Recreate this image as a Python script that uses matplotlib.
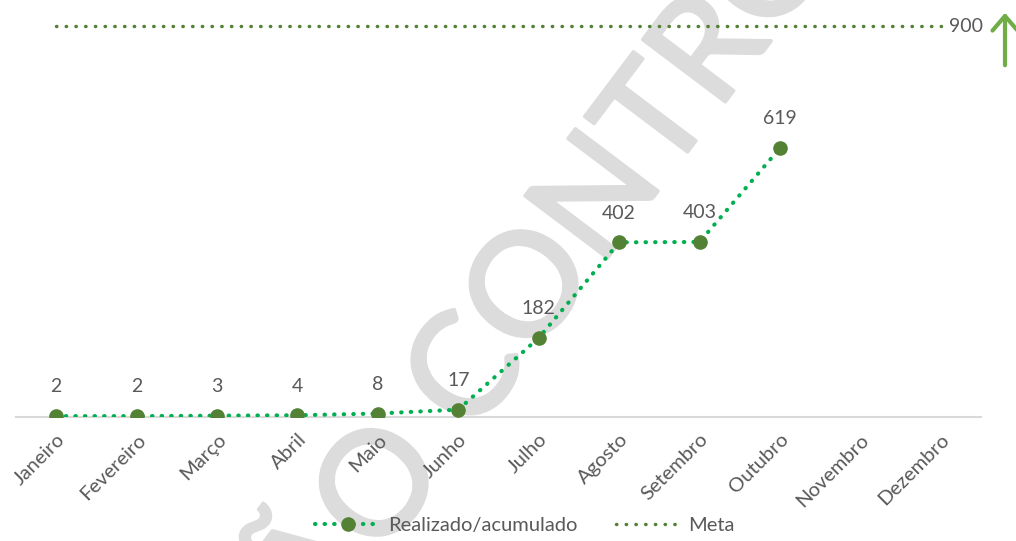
import matplotlib.pyplot as plt
import matplotlib.patheffects as pe
from matplotlib.patches import FancyArrowPatch
from matplotlib.transforms import offset_copy

meses = ["Janeiro", "Fevereiro", "Março", "Abril", "Maio", "Junho",
         "Julho", "Agosto", "Setembro", "Outubro", "Novembro", "Dezembro"]
realizado = [2, 2, 3, 4, 8, 17, 182, 402, 403, 619]
meta = [900] * 12
marca_1 = "CÓPIA NÃO"
marca_2 = "CONTROLADA"

plt.rcParams['font.family'] = ['Lato', 'DejaVu Sans']

cinza = '#595959'
verde = '#00B050'
verde_escuro = '#548235'
cinza_marca = '#DCDCDC'

W, H = 1016, 541
fig = plt.figure(figsize=(W / 100, H / 100), dpi=100)
ax = fig.add_axes([16 / W, 124 / H, 965 / W, 412.7 / H])
ax.set_facecolor('none')

# watermark, behind the axes (stroke makes the regular weight a bit heavier)
ang = 53
engrossa = [pe.withStroke(linewidth=2.5, foreground=cinza_marca)]
fig.text(472 / W, 1 - 438 / H, marca_2, fontsize=104, color=cinza_marca,
         rotation=ang, ha='left', va='baseline', rotation_mode='anchor',
         zorder=-1, path_effects=engrossa)
fig.text(450 / W, 1 - 467 / H, marca_1, fontsize=104, color=cinza_marca,
         rotation=ang, ha='right', va='baseline', rotation_mode='anchor',
         zorder=-1, path_effects=engrossa)

x_meta = list(range(len(meta)))
x_real = list(range(len(realizado)))

ax.plot(x_meta, meta, linestyle=(0, (0.1, 2.7)), dash_capstyle='round',
        lw=2.5, color=verde_escuro, label='Meta', zorder=2)
ax.plot(x_real, realizado, linestyle=(0, (0.1, 2.2)), dash_capstyle='round',
        lw=3, color=verde, marker='o', markersize=9.5, markerfacecolor=verde_escuro,
        markeredgecolor=verde_escuro, label='Realizado/acumulado', zorder=3)

for xi, v in zip(x_real, realizado):
    ax.annotate(str(v), (xi, v), xytext=(0, 21), textcoords='offset points',
                ha='center', va='center', fontsize=14, color=cinza)

ax.annotate(str(meta[-1]), (x_meta[-1], meta[-1]), xytext=(6, 0),
            textcoords='offset points', ha='left', va='center',
            fontsize=14, color=cinza)

# up arrow on the right
fig.patches.append(FancyArrowPatch(
    (1005 / W, 1 - 68 / H), (1005 / W, 1 - 10 / H),
    transform=fig.transFigure, arrowstyle='->,head_length=7,head_width=6',
    color='#70AD47', lw=3, mutation_scale=1.5, capstyle='round'))

ax.set_xlim(-0.5, 11.5)
ax.set_ylim(0, 950)
ax.set_yticks([])
ax.set_xticks(range(len(meses)))
ax.set_xticklabels(meses, rotation=45, ha='right', rotation_mode='anchor',
                   fontsize=14.5, color=cinza)
for lbl in ax.get_xticklabels():
    lbl.set_transform(offset_copy(lbl.get_transform(), fig=fig, x=9, y=-1, units='dots'))
ax.tick_params(axis='x', length=0, pad=10)

for s in ['top', 'right', 'left']:
    ax.spines[s].set_visible(False)
ax.spines['bottom'].set_color('#D9D9D9')
ax.spines['bottom'].set_linewidth(1.5)

h, l = ax.get_legend_handles_labels()
fig.legend(h[::-1], l[::-1], loc='center', bbox_to_anchor=(525 / W, 1 - 525 / H),
           ncol=2, frameon=False, fontsize=14.5, labelcolor=cinza,
           handlelength=3.2, handletextpad=0.4, columnspacing=1.9, numpoints=1)

fig.savefig('out.png', dpi=100)
